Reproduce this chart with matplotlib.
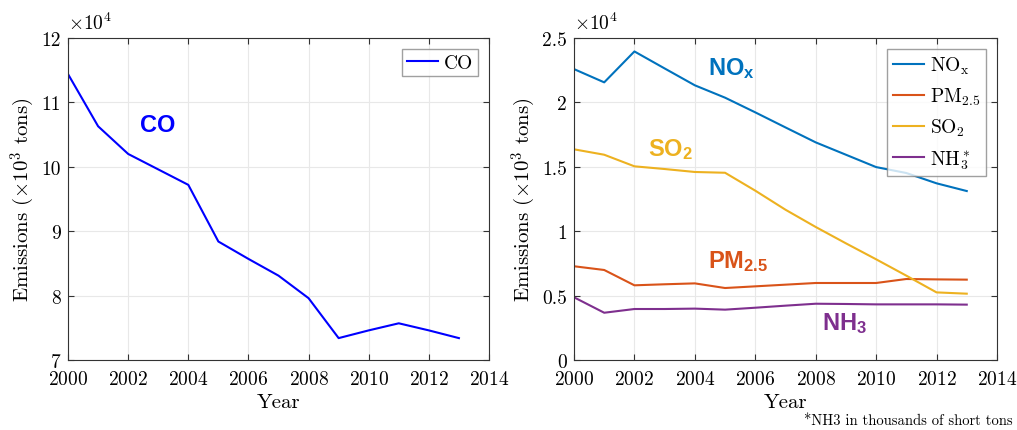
import matplotlib
matplotlib.use('Agg')
import matplotlib.pyplot as plt
from matplotlib.ticker import FuncFormatter

plt.rcParams['font.family'] = 'serif'
plt.rcParams['font.serif'] = ['cmr10', 'DejaVu Serif']
plt.rcParams['mathtext.fontset'] = 'cm'
plt.rcParams['mathtext.bf'] = 'Liberation Sans:bold'
plt.rcParams['mathtext.rm'] = 'Liberation Sans:bold'
plt.rcParams['mathtext.it'] = 'Liberation Sans:bold'
plt.rcParams['axes.formatter.use_mathtext'] = True

YEARS = list(range(2000, 2014))
CO    = [114400, 106300, 102000, 99600, 97200, 88400, 85700, 83100, 79600,
         73400, 74600, 75700, 74600, 73400]
NOX   = [22590, 21560, 23960, 22640, 21330, 20370, 19230, 18060, 16900,
         15940, 14980, 14520, 13720, 13120]
PM25  = [7280, 6990, 5800, 5880, 5950, 5590, 5720, 5850, 5980,
         5980, 5980, 6290, 6260, 6240]
SO2   = [16360, 15940, 15040, 14830, 14600, 14540, 13150, 11670, 10330,
         9060, 7820, 6550, 5250, 5150]
NH3   = [4870, 3670, 3960, 3960, 3990, 3910, 4060, 4220, 4370,
         4350, 4320, 4320, 4320, 4300]

C_BLUE, C_ORANGE, C_YELLOW, C_PURPLE = '#0072BD', '#D95319', '#EDB120', '#7E2F8E'

fig = plt.figure(figsize=(10.17, 4.31), dpi=100)
ax1 = fig.add_axes([0.0669, 0.1624, 0.4139, 0.747])
ax2 = fig.add_axes([0.5644, 0.1624, 0.4159, 0.747])

sci = FuncFormatter(lambda v, p: f"{v/1e4:g}")

def style(ax):
    ax.set_xlim(2000, 2014)
    ax.set_xticks(range(2000, 2015, 2))
    ax.yaxis.set_major_formatter(sci)
    ax.grid(True, color='#e8e8e8', linewidth=0.8)
    ax.set_axisbelow(True)
    ax.tick_params(direction='in', top=True, right=True, labelsize=14,
                   length=4, color='#333333')
    ax.tick_params(axis='x', pad=7)
    ax.tick_params(axis='y', pad=5)
    for s in ax.spines.values():
        s.set_color('#333333')
        s.set_linewidth(0.8)
    ax.set_xlabel('Year', fontsize=15, labelpad=4)
    ax.set_ylabel(r'Emissions $(\times 10^3$ tons$)$', fontsize=15, labelpad=3)
    ax.text(0.0, 1.015, r'$\times10^4$', transform=ax.transAxes, fontsize=14,
            va='bottom', ha='left', math_fontfamily='cm')

# ── CO ─────────────────────────────────────────────────────────────────
ax1.plot(YEARS, CO, color='#0000FF', linewidth=1.5, label='CO')
ax1.set_ylim(70000, 120000)
ax1.set_yticks(range(70000, 120001, 10000))
style(ax1)
ax1.legend(loc='upper right', fontsize=14, fancybox=False, edgecolor='#888888',
           handlelength=1.6, handletextpad=0.3, borderaxespad=0.55,
           borderpad=0.25)
ax1.text(2002.4, 106500, 'CO', color='#0000FF', fontsize=17, fontweight='bold',
         family='Liberation Sans', va='center', ha='left')

# ── Other pollutants ───────────────────────────────────────────────────
ax2.plot(YEARS, NOX, color=C_BLUE, linewidth=1.5, label=r'NO$_{\rm x}$')
ax2.plot(YEARS, PM25, color=C_ORANGE, linewidth=1.5, label=r'PM$_{2.5}$')
ax2.plot(YEARS, SO2, color=C_YELLOW, linewidth=1.5, label=r'SO$_2$')
ax2.plot(YEARS, NH3, color=C_PURPLE, linewidth=1.5, label=r'NH$_3^*$')
ax2.set_ylim(0, 25000)
ax2.set_yticks(range(0, 25001, 5000))
style(ax2)
leg = ax2.legend(loc='upper right', fontsize=14, fancybox=False,
                 edgecolor='#888888', handlelength=1.6, handletextpad=0.3,
                 borderaxespad=0.55, labelspacing=0.5, borderpad=0.3)
for t in leg.get_texts():
    t.set_math_fontfamily('cm')

lab = dict(fontsize=17, fontweight='bold', family='Liberation Sans',
           va='center', ha='left', math_fontfamily='custom')
ax2.text(2004.45, 22700, r'NO$_\mathbf{x}$', color=C_BLUE, **lab)
ax2.text(2002.45, 16400, r'SO$_\mathbf{2}$', color=C_YELLOW, **lab)
ax2.text(2004.45, 7700, r'PM$_\mathbf{2.5}$', color=C_ORANGE, **lab)
ax2.text(2008.2, 2900, r'NH$_\mathbf{3}$', color=C_PURPLE, **lab)

fig.text(0.996, 0.008, '*NH3 in thousands of short tons', fontsize=10.5,
         ha='right', va='bottom')

fig.savefig('out.png', dpi=100)
